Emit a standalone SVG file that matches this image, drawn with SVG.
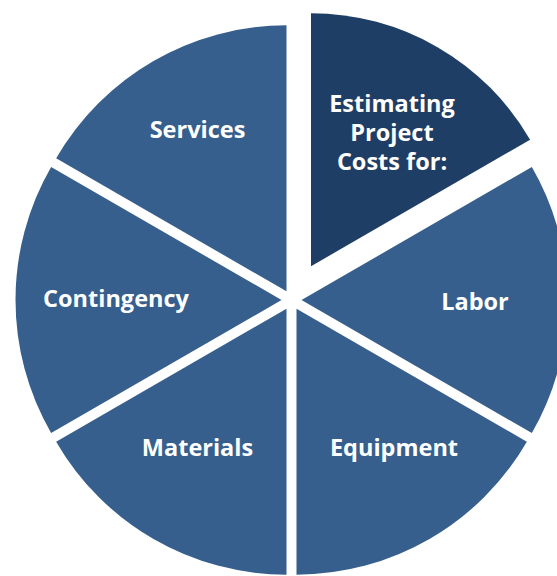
<svg xmlns="http://www.w3.org/2000/svg" width="557" height="576" viewBox="0 0 557 576">
<style>
.s{fill:#365F8E}
.n{fill:#1F3E66}
.t{font-family:"Open Sans","Liberation Sans",sans-serif;font-weight:700;font-size:23.5px;fill:#fff;text-anchor:middle}
</style>
<rect width="557" height="576" fill="#fff"/>
<g id="estimating">
<path class="n" d="M311,266.23 L311,13.23 A253,253 0 0 1 530.1,139.73 Z"/>
<text class="t" x="392" y="112">Estimating</text>
<text class="t" x="392" y="141">Project</text>
<text class="t" x="392" y="170">Costs for:</text>
</g>
<g id="labor">
<path class="s" d="M301.5,300 L531.86,167 A266,266 0 0 1 531.86,433 Z"/>
<text class="t" x="475" y="310">Labor</text>
</g>
<g id="equipment">
<path class="s" d="M296.5,308.66 L526.86,441.66 A266,266 0 0 1 296.5,574.66 Z"/>
<text class="t" x="394" y="456">Equipment</text>
</g>
<g id="materials">
<path class="s" d="M286.5,308.66 L286.5,574.66 A266,266 0 0 1 56.14,441.66 Z"/>
<text class="t" x="197.5" y="456">Materials</text>
</g>
<g id="contingency">
<path class="s" d="M281.5,300 L51.14,433 A266,266 0 0 1 51.14,167 Z"/>
<text class="t" x="116" y="307">Contingency</text>
</g>
<g id="services">
<path class="s" d="M286.5,291.34 L56.14,158.34 A266,266 0 0 1 286.5,25.34 Z"/>
<text class="t" x="197.5" y="138">Services</text>
</g>
<g id="connectors"></g>
</svg>
